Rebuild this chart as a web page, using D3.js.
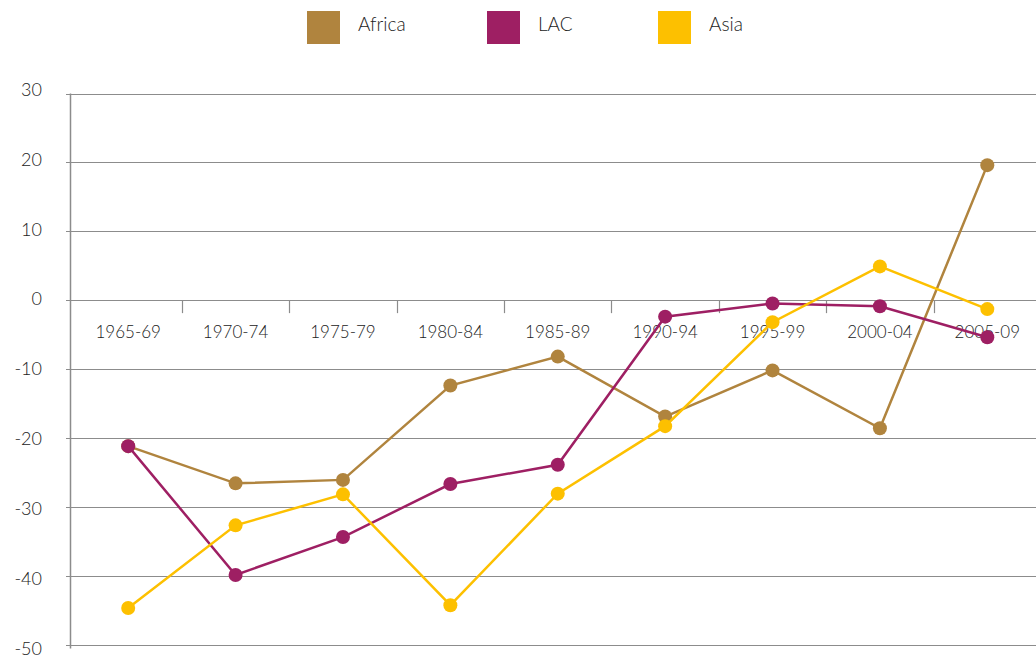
<!DOCTYPE html>
<html>
<head>
<meta charset="utf-8">
<script src="https://cdn.jsdelivr.net/npm/d3@7"></script>
<style>
  body { margin: 0; background: #fff; }
  svg { display: block; font-family: Lato, "Open Sans", sans-serif; font-weight: 300; }
</style>
</head>
<body>
<svg id="chart" width="1036" height="658"></svg>
<script>
let periodos = ["1965-69","1970-74","1975-79","1980-84","1985-89","1990-94","1995-99","2000-04","2005-09"];
let africa = [-21.2,-26.6,-26.1,-12.4,-8.2,-16.9,-10.2,-18.6,19.6];
let lac = [-21.2,-39.9,-34.4,-26.7,-23.9,-2.4,-0.5,-0.9,-5.4];
let asia = [-44.7,-32.7,-28.2,-44.3,-28.1,-18.3,-3.2,4.9,-1.3];
let yticks = [30,20,10,0,-10,-20,-30,-40,-50];
let nombres = ["Africa","LAC","Asia"];
let colores = ["#B0843E","#9E1F63","#FDC000"];

let series = [africa, lac, asia];

let svg = d3.select("#chart");

let xscale = d3.scaleBand().domain(periodos).range([74.5, 1041]);
let yscale = d3.scaleLinear().domain([-50, 30]).range([644.5, 93.5]);
let ylabscale = d3.scaleLinear().domain([-50, 30]).range([648.5, 89.5]);
let centro = d => xscale(d) + xscale.bandwidth()/2;

// gridlines
svg.selectAll(".grid")
    .data(yticks)
    .enter()
    .append("line")
    .attr("class","grid")
    .attr("x1",66)
    .attr("x2",1036)
    .attr("y1",d => Math.round(yscale(d)) + 0.5)
    .attr("y2",d => Math.round(yscale(d)) + 0.5)
    .style("stroke","#8c8c8c")
    .style("stroke-width",1.2);

// y axis line
svg.append("line")
    .attr("x1",70.5).attr("x2",70.5)
    .attr("y1",yscale(30)).attr("y2",yscale(-50) + 4)
    .style("stroke","#8c8c8c")
    .style("stroke-width",1.5);

svg.selectAll(".ylab")
    .data(yticks)
    .enter()
    .append("text")
    .attr("class","ylab")
    .attr("x",42)
    .attr("y",d => ylabscale(d))
    .attr("dy","0.35em")
    .style("text-anchor","end")
    .style("font-size","18px")
    .style("fill","#222")
    .text(d => d);

// category ticks on zero line
svg.selectAll(".xtick")
    .data(periodos.slice(1))
    .enter()
    .append("line")
    .attr("class","xtick")
    .attr("x1",d => Math.round(xscale(d)) + 0.5)
    .attr("x2",d => Math.round(xscale(d)) + 0.5)
    .attr("y1",yscale(0))
    .attr("y2",yscale(0) + 13)
    .style("stroke","#8c8c8c")
    .style("stroke-width",1.2);

svg.selectAll(".xlab")
    .data(periodos)
    .enter()
    .append("text")
    .attr("class","xlab")
    .attr("x",centro)
    .attr("y",yscale(0) + 38)
    .style("text-anchor","middle")
    .style("font-size","17px")
    .style("fill","#222")
    .text(d => d);

// lines and markers
let linea = d3.line()
    .x((d,i) => centro(periodos[i]))
    .y(d => yscale(d));

series.forEach((s,k) => {
    let g = svg.append("g").attr("class","serie_" + nombres[k]);

    g.append("path")
        .datum(s)
        .attr("d",linea)
        .style("fill","none")
        .style("stroke",colores[k])
        .style("stroke-width",2.5);

    g.selectAll("circle")
        .data(s)
        .enter()
        .append("circle")
        .attr("cx",(d,i) => centro(periodos[i]))
        .attr("cy",d => yscale(d))
        .attr("r",7)
        .style("fill",colores[k]);
});

// legend
let legx = [307, 487, 658];
let leyenda = svg.selectAll(".leg")
    .data(nombres)
    .enter()
    .append("g")
    .attr("class","leg")
    .attr("transform",(d,i) => "translate(" + legx[i] + ",11)");

leyenda.append("rect")
    .attr("width",33)
    .attr("height",33)
    .style("fill",(d,i) => colores[i]);

leyenda.append("text")
    .attr("x",51)
    .attr("y",13)
    .attr("dy","0.35em")
    .style("font-size","19px")
    .style("fill","#222")
    .text(d => d);
</script>
</body>
</html>
